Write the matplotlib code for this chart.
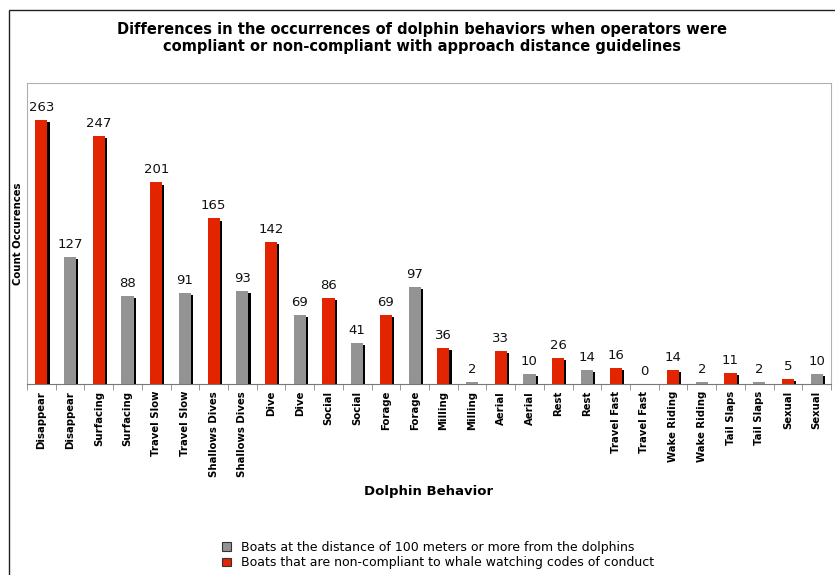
import matplotlib
matplotlib.use("Agg")
import matplotlib.pyplot as plt
import matplotlib.patheffects as pe
from matplotlib.patches import Patch, Rectangle
import numpy as np

behaviors = ["Disappear", "Surfacing", "Travel Slow", "Shallows Dives", "Dive",
             "Social", "Forage", "Milling", "Aerial", "Rest", "Travel Fast",
             "Wake Riding", "Tail Slaps", "Sexual"]
non_compliant = [263, 247, 201, 165, 142, 86, 69, 36, 33, 26, 16, 14, 11, 5]
compliant = [127, 88, 91, 93, 69, 41, 97, 2, 10, 14, 0, 2, 2, 10]

RED = "#e22400"
GRAY = "#939393"

labels = []
values = []
colors = []
for name, nc, c in zip(behaviors, non_compliant, compliant):
    labels += [name, name]
    values += [nc, c]
    colors += [RED, GRAY]

fig = plt.figure(figsize=(8.35, 5.75), dpi=100)
# outer chart border
fig.patches.append(Rectangle((9 / 835, -0.01), 1.0, 1.01 - 10 / 575,
                             transform=fig.transFigure, fill=False,
                             edgecolor="#222222", linewidth=1.0))

ax = fig.add_axes([27 / 835, 1 - 384 / 575, (831 - 27) / 835, (384 - 83) / 575])

x = np.arange(len(values))
shadow = [pe.SimplePatchShadow(offset=(1.6, -1.6), shadow_rgbFace="black", alpha=1.0),
          pe.Normal()]
bars = ax.bar(x, values, width=0.42, color=colors, linewidth=0, zorder=3)
for b in bars:
    b.set_path_effects(shadow)

for xi, v in zip(x, values):
    ax.text(xi, v + 6, str(v), ha="center", va="bottom", fontsize=9.5, color="#111111")

ax.set_xlim(-0.5, len(values) - 0.5)
ax.set_ylim(0, 300)
ax.set_yticks([])
ax.set_xticks(x)
ax.set_xticklabels(labels, rotation=90, fontsize=7.3, fontweight="bold")
ax.tick_params(axis="x", length=0, pad=5)
ax.set_xticks(np.arange(len(values) + 1) - 0.5, minor=True)
ax.tick_params(axis="x", which="minor", length=4, color="#888888")

for side in ["top", "right", "left"]:
    ax.spines[side].set_color("#b0b0b0")
ax.spines["bottom"].set_color("#777777")

ax.set_ylabel("Count Occurences", fontsize=7.3, fontweight="bold", labelpad=3)
ax.set_xlabel("Dolphin Behavior", fontsize=9.5, fontweight="bold", labelpad=6)

fig.text(0.505, 1 - 38 / 575,
         "Differences in the occurrences of dolphin behaviors when operators were\n"
         "compliant or non-compliant with approach distance guidelines",
         ha="center", va="center", fontsize=10.5, fontweight="bold", linespacing=1.15)

handles = [Patch(facecolor=GRAY, edgecolor="#333333", linewidth=0.8),
           Patch(facecolor=RED, edgecolor="#333333", linewidth=0.8)]
fig.legend(handles,
           ["Boats at the distance of 100 meters or more from the dolphins",
            "Boats that are non-compliant to whale watching codes of conduct"],
           loc="center left", bbox_to_anchor=(216 / 835, 1 - 555 / 575),
           frameon=False, fontsize=9, handlelength=0.7, handleheight=0.7,
           handletextpad=0.8, labelspacing=0.2, borderpad=0)

fig.savefig("out.png", dpi=100)
